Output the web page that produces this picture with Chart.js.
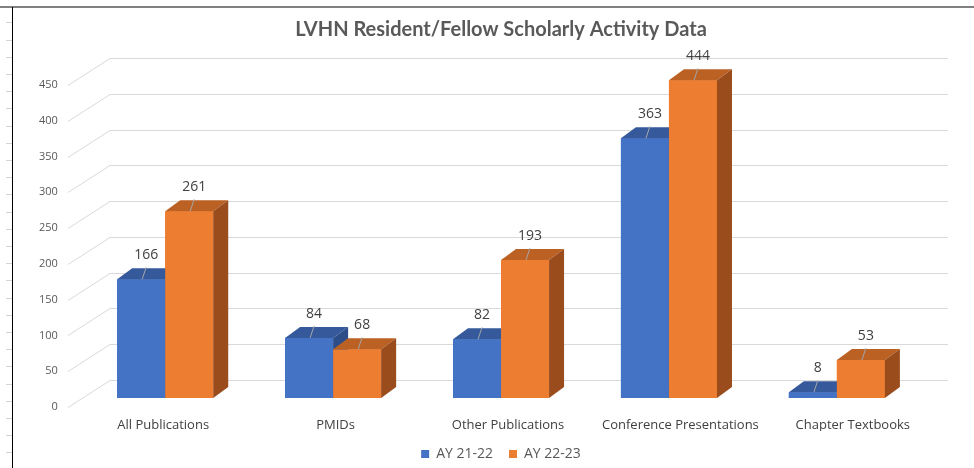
<!DOCTYPE html>
<html>
<head>
<meta charset="utf-8">
<script src="https://cdn.jsdelivr.net/npm/chart.js@4.4.1/dist/chart.umd.min.js"></script>
<style>
html,body{margin:0;padding:0;background:#fff;}
#wrap{position:relative;width:974px;height:468px;overflow:hidden;background:#fff;}
#c{position:absolute;left:0;top:0;}
#frameTop{position:absolute;left:0;top:6px;width:974px;height:2px;background:#808080;}
#frameLeft{position:absolute;left:12px;top:7px;width:1px;height:461px;background:#000;}
#rows{position:absolute;left:6px;top:8px;width:6px;height:460px;
  background:repeating-linear-gradient(to bottom,transparent 0,transparent 14.4px,#d4d4d4 14.4px,#d4d4d4 15.4px,transparent 15.4px,transparent 17.2px);}
</style>
</head>
<body>
<div id="wrap">
  <canvas id="c" width="974" height="468"></canvas>
  <div id="frameTop"></div>
  <div id="frameLeft"></div>
  <div id="rows"></div>
</div>
<script>
// ---- data ----
const categories = ['All Publications', 'PMIDs', 'Other Publications', 'Conference Presentations', 'Chapter Textbooks'];
const seriesNames = ['AY 21-22', 'AY 22-23'];
const ay2122 = [166, 84, 82, 363, 8];
const ay2223 = [261, 68, 193, 444, 53];
const yMin = 0;
const yMax = 450;
const yStep = 50;

// ---- style ----
const frontColors = ['#4472C4', '#ED7D31'];
const topColors = ['#35599b', '#bb6124'];
const sideColors = ['#2c4d88', '#9a4c1c'];
const BAR_SX = 0.974, BAR_TX = 6.24, BAR_TY = -9;   // bar plane shift (depth)
const BAR_DX = 15, BAR_DY = -11;                   // bar depth
const WALL_DX = 42, WALL_DY = -27;                 // wall depth

const threeD = {
  id: 'threeD',
  beforeDatasetsDraw(chart) {
    const {ctx, chartArea, scales} = chart;
    const y = scales.y;
    const fx = chartArea.left - 9, bx = fx + WALL_DX, rx = chartArea.right + 9;
    ctx.save();
    ctx.strokeStyle = '#d9d9d9';
    ctx.lineWidth = 1;
    y.ticks.forEach(t => {
      const py = Math.round(y.getPixelForValue(t.value)) + 0.5;
      ctx.beginPath();
      ctx.moveTo(fx, py);
      ctx.lineTo(bx, py + WALL_DY);
      ctx.lineTo(rx, py + WALL_DY);
      ctx.stroke();
    });
    ctx.restore();
    ctx.save();
    ctx.translate(BAR_TX, BAR_TY);
    ctx.scale(BAR_SX, 1);
  },
  afterDatasetsDraw(chart) {
    const ctx = chart.ctx;
    ctx.restore();
    const metas = [chart.getDatasetMeta(0), chart.getDatasetMeta(1)];
    const labels = [];
    const poly = (pts, color) => {
      ctx.beginPath();
      ctx.moveTo(pts[0][0], pts[0][1]);
      for (let k = 1; k < pts.length; k++) ctx.lineTo(pts[k][0], pts[k][1]);
      ctx.closePath();
      ctx.fillStyle = color;
      ctx.fill();
    };
    for (let i = 0; i < categories.length; i++) {
      metas.forEach((m, d) => {
        const el = m.data[i];
        const p = el.getProps(['x', 'y', 'base', 'width'], true);
        const x0 = BAR_SX * (p.x - p.width / 2) + BAR_TX;
        const x1 = BAR_SX * (p.x + p.width / 2) + BAR_TX;
        const yt = p.y + BAR_TY, yb = p.base + BAR_TY;
        ctx.fillStyle = frontColors[d];
        ctx.fillRect(x0, yt, x1 - x0, yb - yt);
        poly([[x0, yt], [x1, yt], [x1 + BAR_DX, yt + BAR_DY], [x0 + BAR_DX, yt + BAR_DY]], topColors[d]);
        poly([[x1, yt], [x1 + BAR_DX, yt + BAR_DY], [x1 + BAR_DX, yb + BAR_DY], [x1, yb]], sideColors[d]);
        const cx = (x0 + x1) / 2;
        labels.push({cx, yt, v: chart.data.datasets[d].data[i]});
      });
    }
    ctx.save();
    labels.forEach(l => {
      const lx = l.cx + 5, ly = l.yt - 24;
      ctx.strokeStyle = '#a6a6a6';
      ctx.lineWidth = 1;
      ctx.beginPath();
      ctx.moveTo(l.cx + 1, l.yt);
      ctx.lineTo(lx, l.yt - 12);
      ctx.stroke();
      ctx.fillStyle = '#404040';
      ctx.font = '14px "Open Sans"';
      ctx.textAlign = 'center';
      ctx.textBaseline = 'middle';
      ctx.fillText(String(l.v), lx, ly);
    });
    ctx.restore();
  }
};

new Chart(document.getElementById('c'), {
  type: 'bar',
  data: {
    labels: categories,
    datasets: [
      {label: seriesNames[0], data: ay2122, backgroundColor: frontColors[0], clip: false},
      {label: seriesNames[1], data: ay2223, backgroundColor: frontColors[1], clip: false}
    ]
  },
  options: {
    responsive: false,
    animation: false,
    events: [],
    layout: {padding: {left: 63, right: 35, top: 0, bottom: -3}},
    datasets: {bar: {categoryPercentage: 0.572, barPercentage: 1.0}},
    plugins: {
      title: {
        display: true,
        text: 'LVHN Resident/Fellow Scholarly Activity Data',
        color: '#595959',
        font: {family: 'Lato', size: 20, weight: 'bold'},
        padding: {top: 18, bottom: 43}
      },
      legend: {
        position: 'bottom',
        labels: {
          boxWidth: 8, boxHeight: 8, padding: 16,
          color: '#595959',
          font: {family: 'Open Sans', size: 14}
        }
      },
      tooltip: {enabled: false}
    },
    scales: {
      x: {
        grid: {display: false, drawTicks: false},
        border: {display: false},
        ticks: {color: '#404040', font: {family: 'Open Sans', size: 13}, padding: 10, maxRotation: 0, autoSkip: false},
        afterFit(s) { s.height = 24; }
      },
      y: {
        min: yMin, max: yMax,
        grid: {display: false, drawTicks: false},
        border: {display: false},
        ticks: {stepSize: yStep, color: '#595959', font: {family: 'Open Sans', size: 11},
                mirror: true, crossAlign: 'far', padding: -38},
        afterFit(s) { s.width = 14; }
      }
    }
  },
  plugins: [threeD]
});
</script>
</body>
</html>
